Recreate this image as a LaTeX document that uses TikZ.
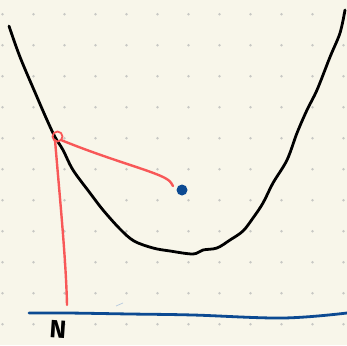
\documentclass[tikz,border=0pt]{standalone}
\usepackage{fontspec}
\newfontfamily\handfont{Fira Sans}
\definecolor{paper}{RGB}{248,246,234}
\definecolor{griddot}{RGB}{200,200,196}
\definecolor{inkred}{RGB}{248,88,88}
\definecolor{inkblue}{RGB}{12,74,146}
\tikzset{
  curveline/.style={line width=2.8pt, line cap=round, line join=round, black},
  redline/.style={line width=2.4pt, line cap=round, line join=round, inkred},
  blueline/.style={line width=2.8pt, line cap=round, inkblue},
}
\begin{document}
\begin{tikzpicture}[x=1pt,y=-1pt]
\fill[paper] (0,0) rectangle (347,345);
\useasboundingbox (0,0) rectangle (347,345);
% dot grid
\foreach \i in {0,...,11}{
  \foreach \j in {0,...,10}{
    \fill[griddot] ({2.5+31*\i},{14.3+31*\j}) circle (1.4);
  }
}
% parabola-like curve
\draw[curveline] plot[smooth, tension=0.55] coordinates {
 (9,26) (20,57) (37,97) (47,120) (55,137) (63,150) (73,170) (90,193)
 (103,210) (120,229) (134,241) (153,248) (170,251) (193,254) (203,250)
 (217,248) (230,240) (243,231) (253,218) (263,203) (273,183) (287,160)
 (297,133) (307,110) (317,90) (330,57) (340,33) (345,10)};
% red circle at the foot point
\coordinate (foot) at (57.5,136.5);
\draw[redline, line width=1.8pt] (foot) circle (5);
% red segment to blue point
\coordinate (p) at (182,190);
\draw[redline] (61,140) .. controls (110,160) and (150,170) .. (165,178) .. controls (170,181) .. (173,186);
% red vertical to axis
\draw[redline] (55,140) .. controls (60,200) and (66,260) .. (67,305);
% blue point
\fill[inkblue] (p) circle (5.5);
% blue axis line
\draw[blueline] plot[smooth, tension=0.6] coordinates {(29,313) (67,313) (130,314) (193,315) (283,318) (347,313)};
% faint stray stroke
\draw[inkblue!30, line width=0.7pt] (116,306) -- (123,303);
% label
\node[font=\handfont\bfseries\fontsize{25}{25}\selectfont, inner sep=0pt, anchor=center, rotate=-4] (lbl) at (58,329) {N};
\end{tikzpicture}
\end{document}
